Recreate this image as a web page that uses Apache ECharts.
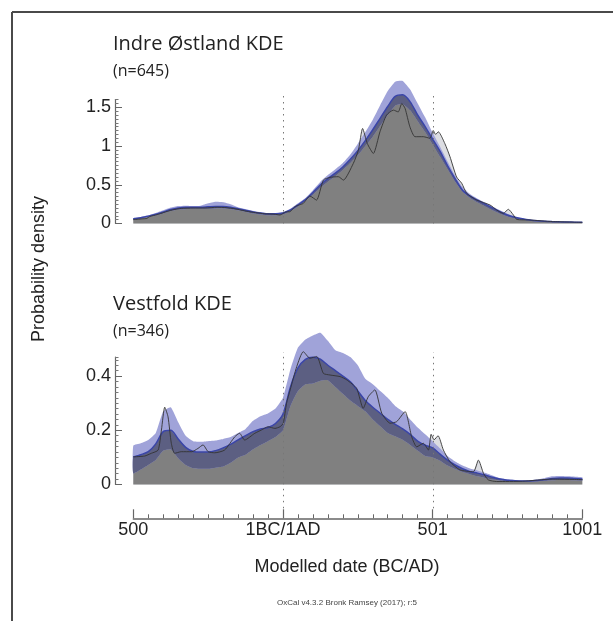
<!DOCTYPE html>
<html>
<head>
<meta charset="utf-8">
<title>KDE plots</title>
<script src="https://cdn.jsdelivr.net/npm/echarts@6/dist/echarts.min.js"></script>
<style>
    html, body {margin: 0; padding: 0; background: #fff;}
    #main {width: 613px; height: 621px;}
</style>
</head>
<body>
<div id="main"></div>
<script>
"use strict";
// modelled years (BC negative), 25 year steps
var years = [-500, -475, -450, -425, -400, -375, -350, -325, -300, -275, -250, -225, -200, -175, -150, -125, -100, -75, -50, -25,
    0, 25, 50, 75, 100, 125, 150, 175, 200, 225, 250, 275, 300, 325, 350, 375, 400, 425, 450, 475,
    500, 525, 550, 575, 600, 625, 650, 675, 700, 725, 750, 775, 800, 825, 850, 875, 900, 925, 950, 975, 1000];

// Indre Østland: KDE mean, -1 sigma, +1 sigma
var indreMean = [0.06, 0.075, 0.095, 0.12, 0.15, 0.18, 0.2, 0.21, 0.21, 0.21, 0.215, 0.22, 0.22, 0.21, 0.19, 0.17, 0.15, 0.135, 0.125, 0.125,
    0.135, 0.175, 0.24, 0.31, 0.4, 0.5, 0.58, 0.65, 0.73, 0.83, 0.94, 1.07, 1.21, 1.36, 1.51, 1.64, 1.66, 1.57, 1.4, 1.25,
    1.09, 0.93, 0.745, 0.58, 0.43, 0.354, 0.3, 0.25, 0.2, 0.152, 0.11, 0.08, 0.06, 0.045, 0.035, 0.028, 0.024, 0.021, 0.019, 0.017, 0.015];
var indreLo = [0.05, 0.065, 0.085, 0.105, 0.13, 0.16, 0.18, 0.185, 0.19, 0.19, 0.19, 0.195, 0.195, 0.185, 0.17, 0.15, 0.13, 0.115, 0.105, 0.105,
    0.115, 0.16, 0.22, 0.29, 0.37, 0.46, 0.54, 0.61, 0.69, 0.78, 0.88, 1.0, 1.12, 1.26, 1.4, 1.52, 1.54, 1.46, 1.32, 1.18,
    1.02, 0.86, 0.7, 0.54, 0.41, 0.33, 0.27, 0.22, 0.17, 0.125, 0.09, 0.065, 0.048, 0.036, 0.028, 0.022, 0.019, 0.017, 0.015, 0.014, 0.013];
var indreHi = [0.07, 0.085, 0.105, 0.135, 0.17, 0.205, 0.225, 0.23, 0.225, 0.23, 0.26, 0.28, 0.275, 0.25, 0.21, 0.185, 0.165, 0.145, 0.135, 0.132,
    0.145, 0.19, 0.26, 0.33, 0.43, 0.54, 0.625, 0.7, 0.78, 0.89, 1.03, 1.18, 1.34, 1.53, 1.71, 1.83, 1.84, 1.73, 1.55, 1.37,
    1.17, 0.99, 0.8, 0.62, 0.47, 0.38, 0.32, 0.27, 0.22, 0.17, 0.125, 0.09, 0.065, 0.05, 0.04, 0.032, 0.027, 0.024, 0.022, 0.02, 0.018];
// Indre Østland: summed (unmodelled) distribution
var indreSumYears = [-500, -470, -455, -445, -420, -400, -370, -340, -300, -260, -220, -190, -160, -130, -100, -60, -30, -10,
    10, 23, 40, 55, 68, 90, 112, 135, 157, 185, 202, 235, 252, 266, 282, 302, 324, 346, 369, 385, 397, 408, 424, 441, 469, 491,
    502, 510, 519, 541, 558, 580, 597, 614, 647, 692, 714, 736, 753, 770, 781, 825, 900, 1000];
var indreSumVals = [0.05, 0.06, 0.065, 0.09, 0.115, 0.14, 0.175, 0.195, 0.2, 0.2, 0.21, 0.205, 0.19, 0.165, 0.145, 0.125, 0.12, 0.11,
    0.15, 0.152, 0.217, 0.24, 0.26, 0.354, 0.302, 0.56, 0.595, 0.604, 0.56, 0.775, 0.947, 1.226, 1.03, 0.904, 1.183, 1.398, 1.463, 1.44, 1.548, 1.484, 1.248, 1.12, 1.12, 1.1,
    1.2, 1.15, 1.183, 1.03, 0.861, 0.6, 0.52, 0.389, 0.303, 0.238, 0.174, 0.131, 0.183, 0.109, 0.053, 0.045, 0.025, 0.015];

// Vestfold: KDE mean, -1 sigma, +1 sigma
var vestMean = [0.102, 0.11, 0.121, 0.15, 0.195, 0.2, 0.168, 0.137, 0.122, 0.12, 0.12, 0.125, 0.135, 0.148, 0.165, 0.18, 0.195, 0.205, 0.21, 0.225,
    0.26, 0.36, 0.43, 0.462, 0.469, 0.462, 0.44, 0.42, 0.4, 0.379, 0.345, 0.31, 0.285, 0.263, 0.24, 0.222, 0.205, 0.185, 0.16, 0.145,
    0.135, 0.112, 0.09, 0.072, 0.058, 0.047, 0.042, 0.035, 0.027, 0.02, 0.016, 0.014, 0.013, 0.013, 0.015, 0.018, 0.022, 0.024, 0.024, 0.022, 0.02];
var vestLo = [0.041, 0.055, 0.072, 0.09, 0.125, 0.13, 0.097, 0.072, 0.06, 0.058, 0.058, 0.062, 0.066, 0.08, 0.1, 0.11, 0.13, 0.146, 0.16, 0.175,
    0.2, 0.29, 0.345, 0.37, 0.373, 0.383, 0.385, 0.36, 0.335, 0.31, 0.29, 0.27, 0.24, 0.215, 0.19, 0.178, 0.165, 0.146, 0.125, 0.105,
    0.1, 0.088, 0.07, 0.057, 0.046, 0.038, 0.03, 0.024, 0.018, 0.014, 0.012, 0.011, 0.011, 0.011, 0.012, 0.014, 0.016, 0.017, 0.017, 0.016, 0.015];
var vestHi = [0.143, 0.152, 0.164, 0.19, 0.27, 0.285, 0.23, 0.18, 0.16, 0.158, 0.16, 0.162, 0.168, 0.175, 0.19, 0.205, 0.235, 0.252, 0.262, 0.28,
    0.32, 0.425, 0.505, 0.535, 0.55, 0.56, 0.53, 0.495, 0.485, 0.47, 0.44, 0.39, 0.37, 0.345, 0.32, 0.29, 0.27, 0.24, 0.21, 0.185,
    0.16, 0.133, 0.105, 0.085, 0.07, 0.059, 0.052, 0.043, 0.033, 0.023, 0.019, 0.017, 0.015, 0.015, 0.018, 0.024, 0.03, 0.031, 0.03, 0.029, 0.027];
// Vestfold: summed (unmodelled) distribution
var vestSumYears = [-500, -462, -440, -417, -406, -395, -384, -373, -362, -340, -305, -284, -267, -250, -228, -195, -161, -145, -128, -94, -72, -50, -27, -10,
    1, 12, 24, 46, 68, 90, 113, 135, 157, 191, 213, 246, 268, 285, 307, 330, 358, 380, 408, 430, 447, 469, 486,
    495, 505, 518, 536, 558, 591, 636, 653, 670, 686, 714, 800, 900, 1000];
var vestSumVals = [0.102, 0.105, 0.115, 0.127, 0.201, 0.285, 0.25, 0.152, 0.115, 0.121, 0.121, 0.133, 0.146, 0.121, 0.117, 0.127, 0.176, 0.189, 0.164, 0.189, 0.201, 0.213, 0.207, 0.213,
    0.226, 0.3, 0.349, 0.435, 0.49, 0.466, 0.472, 0.41, 0.404, 0.398, 0.386, 0.355, 0.281, 0.324, 0.349, 0.263, 0.226, 0.232, 0.269, 0.176, 0.139, 0.152, 0.127,
    0.185, 0.165, 0.18, 0.127, 0.084, 0.054, 0.047, 0.09, 0.041, 0.017, 0.011, 0.012, 0.02, 0.018];

var indreTicks = [0, 0.5, 1, 1.5];
var vestTicks = [0, 0.2, 0.4];
var xTickNames = {'-500': '500', '0': '1BC/1AD', '500': '501', '1000': '1001'};
var guideYears = [1, 501];

var axisFont = 'Liberation Sans, Arial, sans-serif';
var grey = '#808080';
var bandColor = '#a0a3d9';   // band over white
var bandDark = '#5c5f82';    // band over the grey KDE

function pairs(xs, ys) {
    var out = [];
    for (var i = 0; i < xs.length; i++) {
        out.push([xs[i], ys[i]]);
    }
    return out;
}

// filled area from 0 up to a curve, as one polygon through the axes
function fillSeries(idx, yIdx, xs, ys, color) {
    return {
        type: 'custom', xAxisIndex: idx, yAxisIndex: yIdx, data: pairs(xs, ys), silent: true, clip: false,
        renderItem: function (params, api) {
            if (params.dataIndex !== 0) return null;
            var pts = [api.coord([xs[0], 0])];
            for (var i = 0; i < xs.length; i++) pts.push(api.coord([xs[i], ys[i]]));
            pts.push(api.coord([xs[xs.length - 1], 0]));
            return {type: 'polygon', shape: {points: pts}, style: {fill: color}};
        }
    };
}

function between(api, lower, upper) {
    var pts = [];
    var i;
    for (i = 0; i < years.length; i++) pts.push(api.coord([years[i], upper[i]]));
    for (i = years.length - 1; i >= 0; i--) pts.push(api.coord([years[i], lower[i]]));
    return pts;
}

// +-1 sigma band: light part over white, dark part where it lies on the KDE
function bandSeries(idx, yIdx, mean, lo, hi) {
    return {
        type: 'custom', xAxisIndex: idx, yAxisIndex: yIdx, data: pairs(years, lo), silent: true, clip: false,
        renderItem: function (params, api) {
            if (params.dataIndex !== 0) return null;
            return {
                type: 'group',
                children: [
                    {type: 'polygon', shape: {points: between(api, lo, hi), smooth: 0.15}, style: {fill: bandColor}},
                    {type: 'polygon', shape: {points: between(api, lo, mean), smooth: 0.15}, style: {fill: bandDark}}
                ]
            };
        }
    };
}

function lineSeries(idx, yIdx, xs, ys, color, width, smooth) {
    return {
        type: 'line', xAxisIndex: idx, yAxisIndex: yIdx, data: pairs(xs, ys), smooth: smooth,
        showSymbol: false, silent: true, clip: false,
        lineStyle: {width: width, color: color}
    };
}

// all the layers of one KDE panel
function panel(idx, yIdx, mean, lo, hi, sumX, sumY) {
    return [
        fillSeries(idx, yIdx, sumX, sumY, '#dcdde2'),
        fillSeries(idx, yIdx, years, mean, grey),
        bandSeries(idx, yIdx, mean, lo, hi),
        lineSeries(idx, yIdx, years, mean, '#3a45a8', 1.5, 0.3),
        lineSeries(idx, yIdx, sumX, sumY, '#333', 0.9, 0.2)
    ];
}

// dotted guides at 1 AD and 501 AD, on a grid of their own
function guides(idx, yIdx, y0, y1) {
    var lines = [];
    for (var i = 0; i < guideYears.length; i++) {
        lines.push([{coord: [guideYears[i], y0]}, {coord: [guideYears[i], y1]}]);
    }
    return {
        type: 'line', xAxisIndex: idx, yAxisIndex: yIdx, data: [[-500, 0]], showSymbol: false,
        lineStyle: {opacity: 0}, silent: true,
        markLine: {
            silent: true, symbol: 'none', label: {show: false}, animation: false,
            lineStyle: {color: '#777', type: [1.5, 4.5], width: 1},
            data: lines
        }
    };
}

function minorY(grid, max, step) {
    return {
        type: 'value', gridIndex: grid, position: 'left', min: 0, max: max, interval: step, offset: 18.3,
        axisLine: {show: true, onZero: false, lineStyle: {color: '#666', width: 1.2}},
        axisTick: {show: true, inside: true, length: 3.5, lineStyle: {color: '#777'}},
        axisLabel: {show: false}, splitLine: {show: false}
    };
}

function majorY(grid, max, ticks) {
    return {
        type: 'value', gridIndex: grid, position: 'left', min: 0, max: max, offset: 18.3,
        axisLine: {show: false, onZero: false},
        axisTick: {show: true, inside: true, length: 7, customValues: ticks, lineStyle: {color: '#666'}},
        axisLabel: {show: true, customValues: ticks, margin: 4, color: '#222', fontSize: 18, fontFamily: axisFont},
        splitLine: {show: false}
    };
}

var hiddenX = function (grid) {
    return {type: 'value', gridIndex: grid, min: -500, max: 1000, show: false, axisLine: {onZero: false}};
};
var hiddenY = function (grid) {
    return {type: 'value', gridIndex: grid, min: 0, max: 1, show: false, axisLine: {onZero: false}};
};

var option = {
    animation: false,
    backgroundColor: '#fff',
    grid: [
        {left: 133.3, right: 30.7, top: 99.5, height: 124},
        {left: 133.3, right: 30.7, top: 357.1, height: 127.4},
        {left: 133.3, right: 30.7, top: 352, height: 166.3},
        {left: 133.3, right: 30.7, top: 95, height: 128.5}
    ],
    xAxis: [
        hiddenX(0),
        hiddenX(1),
        {
            type: 'value', gridIndex: 2, position: 'bottom', min: -500, max: 1000, interval: 500,
            axisLine: {show: true, onZero: false, lineStyle: {color: '#666', width: 1.5}},
            axisTick: {show: true, inside: true, length: 9, lineStyle: {color: '#666', width: 1.2}},
            minorTick: {show: true, splitNumber: 10, length: 4, lineStyle: {color: '#666'}},
            axisLabel: {
                margin: 3, color: '#222', fontSize: 18, fontFamily: axisFont,
                formatter: function (v) { return xTickNames[String(v)] || ''; }
            },
            splitLine: {show: false}
        },
        hiddenX(3)
    ],
    yAxis: [
        minorY(0, 1.6, 0.05),
        majorY(0, 1.6, indreTicks),
        minorY(1, 0.47, 0.02),
        majorY(1, 0.47, vestTicks),
        hiddenY(2),
        hiddenY(3)
    ],
    series: [].concat(
        panel(0, 0, indreMean, indreLo, indreHi, indreSumYears, indreSumVals),
        panel(1, 2, vestMean, vestLo, vestHi, vestSumYears, vestSumVals),
        [guides(3, 5, 0, 1), guides(2, 4, 0.06, 1)]
    ),
    graphic: [
        // frame
        {type: 'line', shape: {x1: 12, y1: 12, x2: 613, y2: 12}, style: {stroke: '#4a4a4a', lineWidth: 2}},
        {type: 'line', shape: {x1: 12, y1: 12, x2: 12, y2: 621}, style: {stroke: '#4a4a4a', lineWidth: 2}},
        {type: 'text', x: 113, y: 44, style: {text: 'Indre Østland KDE', font: '20px "Open Sans", sans-serif', fill: '#222', verticalAlign: 'middle'}},
        {type: 'text', x: 113, y: 71, style: {text: '(n=645)', font: '16px "Open Sans", sans-serif', fill: '#222', verticalAlign: 'middle'}},
        {type: 'text', x: 113, y: 304, style: {text: 'Vestfold KDE', font: '20px "Open Sans", sans-serif', fill: '#222', verticalAlign: 'middle'}},
        {type: 'text', x: 113, y: 331, style: {text: '(n=346)', font: '16px "Open Sans", sans-serif', fill: '#222', verticalAlign: 'middle'}},
        {type: 'text', x: 39, y: 269, rotation: Math.PI / 2,
            style: {text: 'Probability density', font: '18px ' + axisFont, fill: '#222', align: 'center', verticalAlign: 'middle'}},
        {type: 'text', x: 347, y: 567, style: {text: 'Modelled date (BC/AD)', font: '18px ' + axisFont, fill: '#222', align: 'center', verticalAlign: 'middle'}},
        {type: 'text', x: 347, y: 603, style: {text: 'OxCal v4.3.2 Bronk Ramsey (2017); r:5', font: '8px ' + axisFont, fill: '#444', align: 'center', verticalAlign: 'middle'}}
    ]
};

var chart = echarts.init(document.getElementById('main'));
chart.setOption(option);
</script>
</body>
</html>
